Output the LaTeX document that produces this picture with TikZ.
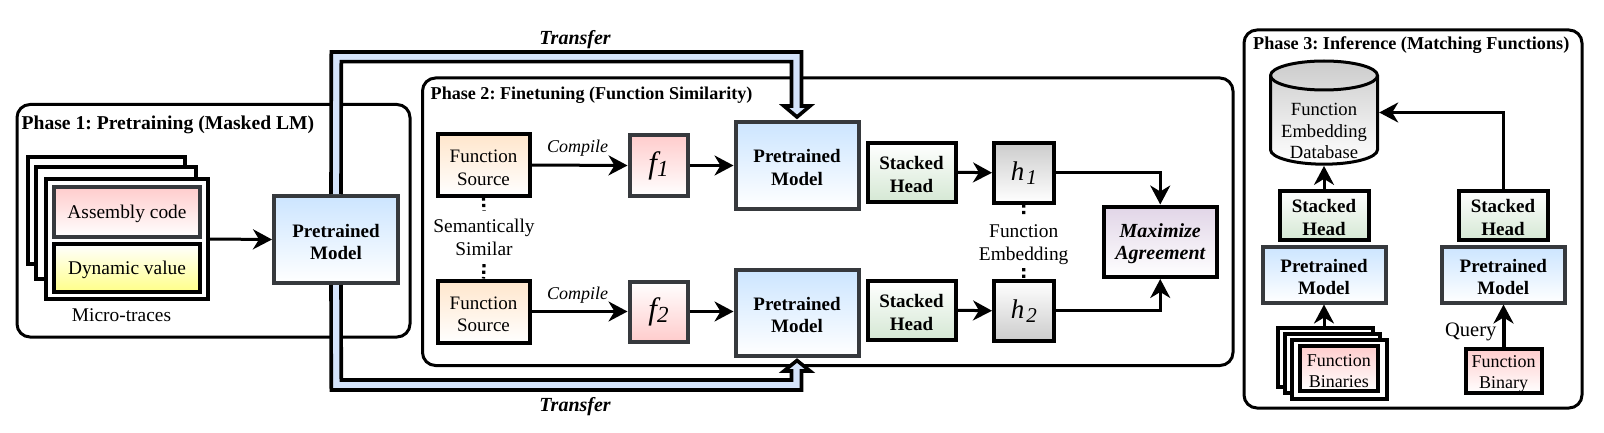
\documentclass[tikz,border=0pt]{standalone}
\usepackage{fontspec}
\setmainfont{Liberation Serif}
\usetikzlibrary{arrows.meta,calc}
\definecolor{dk}{HTML}{36393D}
\definecolor{blu}{HTML}{CCE5FF}
\definecolor{pipe}{HTML}{D4E3FA}
\definecolor{rd}{HTML}{FFCCCC}
\definecolor{yl}{HTML}{FFFF88}
\definecolor{org}{HTML}{FFE6CC}
\definecolor{grn}{HTML}{D5E8D4}
\definecolor{pur}{HTML}{E1D5E7}
\definecolor{gry}{HTML}{CCCCCC}
\newcommand\bx[7]{% name x0 y0 x1 y1 {style}{text}
  \pgfmathsetmacro\bxc{(#2+#4)/2}\pgfmathsetmacro\byc{(#3+#5)/2}%
  \pgfmathsetmacro\bxw{#4-#2-4}\pgfmathsetmacro\byh{#5-#3-4}%
  \node[#6,minimum width=\bxw pt,minimum height=\byh pt] (#1) at (\bxc,\byc) {\rule{0pt}{18pt}#7}}
\tikzset{
  x=1pt,y=-1pt,
  base/.style={line width=4pt,inner sep=0pt,align=center,font=\fontsize{19}{22.5}\selectfont},
  blk/.style={base,draw=black},
  drk/.style={base,draw=dk},
  bf/.style={font=\fontsize{19}{22.5}\selectfont\bfseries},
  pm/.style={drk,bf,top color=blu,bottom color=white},
  sh/.style={blk,bf,top color=white,bottom color=grn},
  src/.style={blk,top color=org,bottom color=white},
  blank/.style={blk,fill=white},
  phase/.style={draw=black,line width=3pt,rounded corners=13pt,fill=white},
  title/.style={anchor=west,inner sep=0pt,font=\bfseries},
  lbl/.style={inner sep=0pt,align=center,font=\fontsize{19.4}{22.5}\selectfont},
  arr/.style={line width=3pt,-{Stealth[length=19pt,width=20pt,inset=6pt]}},
  dots/.style={line width=3.2pt,dash pattern=on 3.2pt off 3.2pt},
  pipeline/.style={draw=black,fill=pipe,line width=3.6pt,line join=miter},
  xfer/.style={inner sep=0pt,font=\fontsize{20}{24}\selectfont\bfseries\itshape},
  cmp/.style={pos=.48,above=7pt,inner sep=0pt,font=\fontsize{18}{20}\selectfont\itshape},
  sml/.style={font=\fontsize{18}{21.5}\selectfont},
  lg/.style={font=\fontsize{19.4}{22.5}\selectfont}
}
\begin{document}
\frenchspacing
\begin{tikzpicture}
\useasboundingbox (0,0) rectangle (1604,433);
\fill[white] (0,0) rectangle (1604,433);
% phases
\draw[phase] (17,104.5) rectangle (410,337);
\draw[phase] (422.5,78) rectangle (1233,365.5);
\draw[phase] (1244,30) rectangle (1582,408);
\node[title,font=\fontsize{19.6}{22}\selectfont\bfseries] (t1) at (21.5,124.5) {Phase 1: Pretraining (Masked LM)};
\node[title,font=\fontsize{18.1}{22}\selectfont\bfseries] (t2) at (430.5,95) {Phase 2: Finetuning (Function Similarity)};
\node[title,font=\fontsize{18.2}{22}\selectfont\bfseries] (t3) at (1253,45.5) {Phase 3: Inference (Matching Functions)};
% phase 1
\bx{s1}{25.5}{155}{186.5}{266}{blank}{};
\bx{s2}{34}{165}{198}{281}{blank}{};
\bx{s3}{44}{177}{210}{301}{blank}{};
\bx{asm}{52}{185}{202}{239}{drk,lg,top color=rd,bottom color=white}{Assembly code};
\bx{dyn}{52}{242}{202}{294}{blk,lg,top color=white,bottom color=yl}{Dynamic value};
\node[lbl] (mt) at (121.5,315) {Micro-traces};
\bx{p1}{272}{194}{400}{285}{pm}{Pretrained\\Model};
\draw[arr] (s3.east) -- (p1.west);
% phase 2
\bx{fs1}{435.5}{132.5}{531.5}{197.5}{src}{Function\\Source};
\bx{fs2}{435.5}{278.5}{531.5}{344.5}{src}{Function\\Source};
\node[lbl,minimum height=53pt] (sem) at (484,237.5) {Semantically\\Similar};
\draw[dots] (fs1.south) -- (sem.north);
\draw[dots] (sem.south) -- (fs2.north);
\bx{f1}{627.5}{133.5}{689.5}{197.5}{drk,top color=rd,bottom color=white}{\fontsize{31}{30}\selectfont\itshape f\raisebox{-3pt}{\fontsize{23}{24}\selectfont 1}};
\bx{f2}{627.5}{279.5}{689.5}{343.5}{drk,top color=white,bottom color=rd}{\fontsize{31}{30}\selectfont\itshape f\raisebox{-3pt}{\fontsize{23}{24}\selectfont 2}};
\bx{p2a}{733.5}{120}{860.5}{210.5}{pm}{Pretrained\\Model};
\bx{p2b}{733.5}{267.5}{860.5}{357.5}{pm}{Pretrained\\Model};
\bx{sh1}{865.5}{141}{957.5}{203.5}{sh}{Stacked\\Head};
\bx{sh2}{865.5}{279}{957.5}{341.5}{sh}{Stacked\\Head};
\bx{h1}{992}{141}{1055.5}{204.5}{blk,top color=gry,bottom color=white}{\fontsize{27}{30}\selectfont\itshape h\kern2pt\raisebox{-4pt}{\fontsize{21}{22}\selectfont 1}};
\bx{h2}{992}{279}{1055.5}{342.5}{blk,top color=white,bottom color=gry}{\fontsize{27}{30}\selectfont\itshape h\kern2pt\raisebox{-4pt}{\fontsize{21}{22}\selectfont 2}};
\bx{mx}{1101.5}{204.5}{1219}{279}{blk,top color=pur,bottom color=white,font=\fontsize{20}{22.5}\selectfont\bfseries\itshape}{Maximize\\Agreement};
\node[lbl,minimum height=53pt] (fe) at (1023.7,241.5) {\rule{0pt}{19pt}Function\\Embedding};
\draw[dots] (h1.south) -- (fe.north);
\draw[dots] (fe.south) -- (h2.north);
\draw[arr] (fs1.east) -- (f1.west) node[cmp] (c1) {Compile};
\draw[arr] (fs2.east) -- (f2.west) node[cmp] (c2) {Compile};
\draw[arr] (f1.east) -- (f1.east -| p2a.west);
\draw[arr] (f2.east) -- (f2.east -| p2b.west);
\draw[arr] (sh1.east) -- (h1.west);
\draw[arr] (sh2.east) -- (h2.west);
\draw[arr] (h1.east) -| (mx.north);
\draw[arr] (h2.east) -| (mx.south);
% transfer pipes
\path[pipeline] ($(p1.north)+(-5,0)$) -- (331.3,52) -- (801.5,52) -- (801.5,106) -- (810,106)
  -- ($(p2a.north)+(0,-3)$) -- (784,106) -- (791.5,106) -- (791.5,61.7) -- (341.3,61.7) -- ($(p1.north)+(5,0)$);
\path[pipeline] ($(p1.south)+(-5,0)$) -- (331.3,390) -- (801.5,390) -- (801.5,371) -- (810,371)
  -- ($(p2b.south)+(0,3)$) -- (784,371) -- (791.5,371) -- (791.5,380) -- (341.3,380) -- ($(p1.south)+(5,0)$);
\node[xfer] (x1) at (575,40) {Transfer};
\node[xfer] (x2) at (575,407) {Transfer};
% phase 3
\shade[top color=gry,bottom color=white] (1270.5,75.5) arc[start angle=180,end angle=0,x radius=53.5pt,y radius=14.5pt] -- (1377.5,149.7) arc[start angle=0,end angle=-180,x radius=53.5pt,y radius=14.5pt] -- cycle;
\draw[line width=3pt] (1270.5,75.5) arc[start angle=180,end angle=0,x radius=53.5pt,y radius=14.5pt] -- (1377.5,149.7) arc[start angle=0,end angle=-180,x radius=53.5pt,y radius=14.5pt] -- cycle;
\draw[line width=3pt] (1270.5,75.5) arc[start angle=180,end angle=360,x radius=53.5pt,y radius=14.5pt];
\node[lbl,minimum width=110pt,minimum height=106.4pt] (db) at (1324,112.5) {};
\node[lbl,font=\fontsize{18.6}{21.5}\selectfont] (dbt) at (1324,131) {Function\\Embedding\\Database};
\bx{sh3}{1277.5}{188.5}{1370.5}{241.5}{sh}{Stacked\\Head};
\bx{sh4}{1456.5}{188.5}{1549.5}{241.5}{sh}{Stacked\\Head};
\bx{p3}{1260.5}{245}{1387.5}{304.5}{pm}{Pretrained\\Model};
\bx{p4}{1439.5}{245}{1567}{304.5}{pm}{Pretrained\\Model};
\bx{b1}{1275.5}{325.5}{1375}{388.5}{blank}{};
\bx{b2}{1283}{331.5}{1382}{394.5}{blank}{};
\bx{b3}{1289.5}{337.5}{1389}{400.5}{blank}{};
\bx{fb}{1297.5}{343.5}{1380}{392.5}{blk,sml,top color=rd,bottom color=white}{Function\\Binaries};
\bx{fq}{1463.5}{346.5}{1543.5}{395}{blk,sml,top color=rd,bottom color=white}{Function\\Binary};
\node[lbl,font=\fontsize{20.5}{24}\selectfont] (q) at (1470.7,332) {Query};
\draw[arr] (sh3.north) -- (sh3.north |- db.south);
\draw[arr] (sh4.north) |- (db.east);
\draw[arr] (b1.north -| p3.south) -- (p3.south);
\draw[arr,line width=4pt] (fq.north) -- (fq.north |- p4.south);
\end{tikzpicture}
\end{document}
